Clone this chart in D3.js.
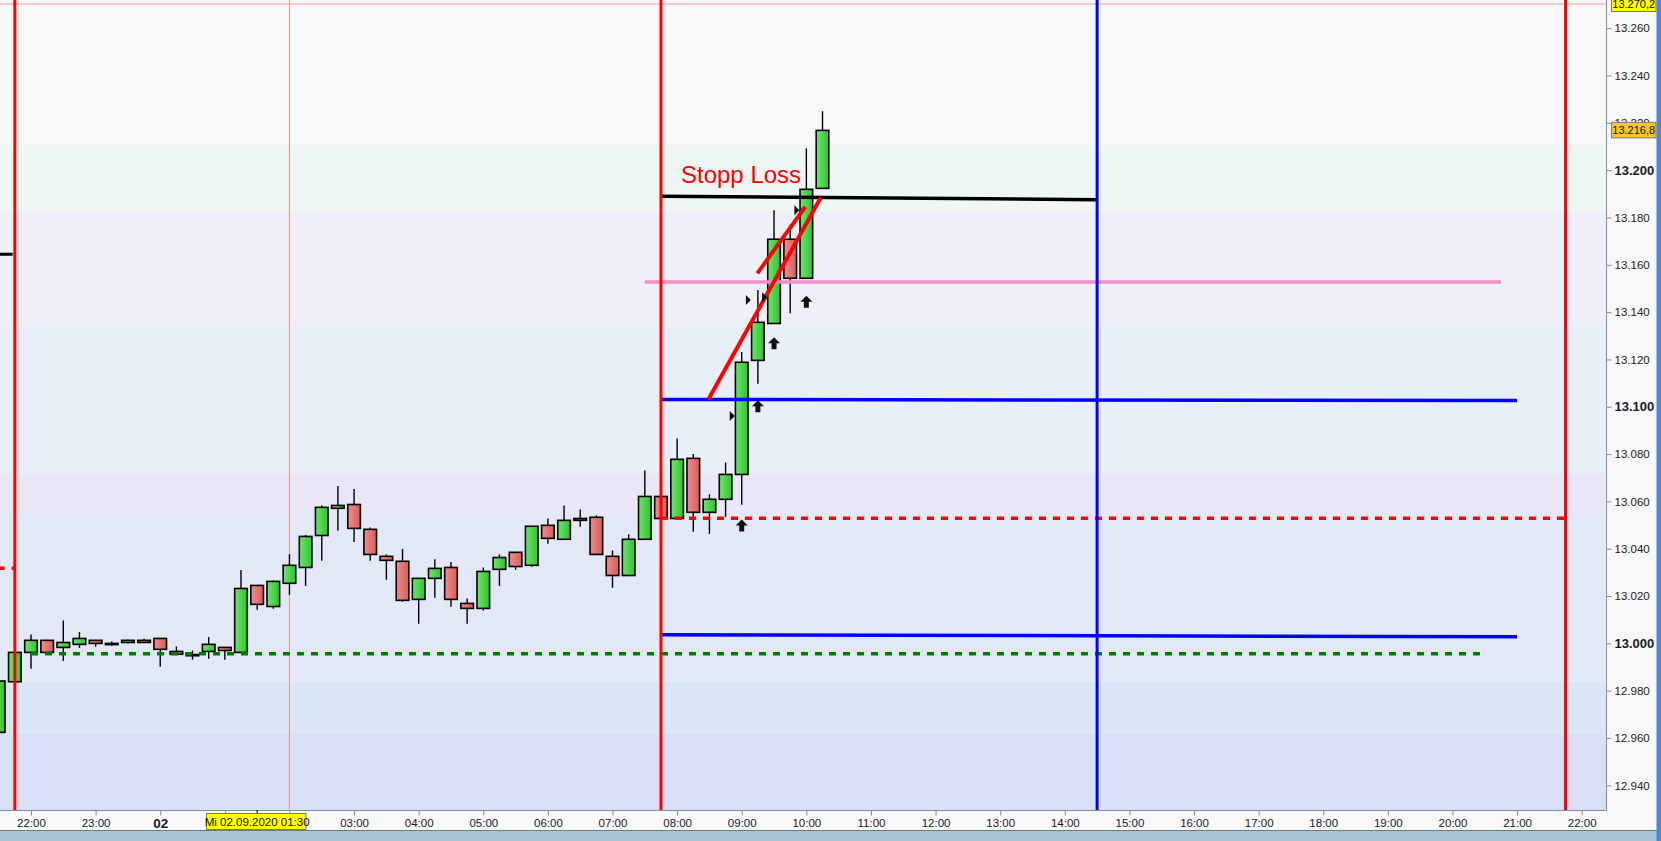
<!DOCTYPE html>
<html><head><meta charset="utf-8">
<script src="https://cdn.jsdelivr.net/npm/d3@7"></script>
<style>
body{margin:0;background:#f8f8f8;overflow:hidden}
svg{display:block;font-family:"Liberation Sans",Arial,sans-serif}
</style>
</head><body>
<svg id="c" width="1661" height="841"></svg>
<script>
// ---------- DATA ----------
const candleTimes = [
 "2020-09-01 21:30","2020-09-01 21:45","2020-09-01 22:00","2020-09-01 22:15","2020-09-01 22:30","2020-09-01 22:45",
 "2020-09-01 23:00","2020-09-01 23:15","2020-09-01 23:30","2020-09-01 23:45","2020-09-02 00:00","2020-09-02 00:15",
 "2020-09-02 00:30","2020-09-02 00:45","2020-09-02 01:00","2020-09-02 01:15","2020-09-02 01:30","2020-09-02 01:45",
 "2020-09-02 02:00","2020-09-02 02:15","2020-09-02 02:30","2020-09-02 02:45","2020-09-02 03:00","2020-09-02 03:15",
 "2020-09-02 03:30","2020-09-02 03:45","2020-09-02 04:00","2020-09-02 04:15","2020-09-02 04:30","2020-09-02 04:45",
 "2020-09-02 05:00","2020-09-02 05:15","2020-09-02 05:30","2020-09-02 05:45","2020-09-02 06:00","2020-09-02 06:15",
 "2020-09-02 06:30","2020-09-02 06:45","2020-09-02 07:00","2020-09-02 07:15","2020-09-02 07:30","2020-09-02 07:45",
 "2020-09-02 08:00","2020-09-02 08:15","2020-09-02 08:30","2020-09-02 08:45","2020-09-02 09:00","2020-09-02 09:15",
 "2020-09-02 09:30","2020-09-02 09:45","2020-09-02 10:00","2020-09-02 10:15"];
const opens  = [12962.4,12983.8,12996.2,13001.3,12998.3,12999.6,13001.3,13000.0,13000.4,13001.3,13002.1,12996.6,
 12995.3,12996.6,12998.3,12996.2,13024.5,13015.6,13025.4,13032.1,13045.6,13057.1,13058.7,13048.2,
 13036.8,13034.7,13018.6,13027.5,13032.1,13016.9,13014.8,13031.3,13038.5,13033.0,13049.9,13044.0,
 13052.0,13053.3,13036.8,13028.7,13044.0,13062.1,13052.8,13078.2,13055.4,13060.9,13071.4,13119.6,
 13135.2,13170.8,13154.3,13192.3];
const highs  = [12984.5,12996.5,13003.8,13001.5,13009.7,13004.8,13001.5,13000.8,13001.7,13002.1,13002.1,12998.7,
 12997.0,13002.7,12998.3,13031.0,13024.5,13026.6,13037.7,13045.8,13058.3,13066.5,13065.2,13049.0,
 13037.6,13039.9,13027.5,13035.6,13034.4,13019.0,13032.1,13037.6,13038.5,13049.5,13052.8,13058.3,
 13056.6,13054.1,13039.3,13046.1,13073.1,13062.1,13086.6,13080.0,13063.0,13076.5,13123.2,13149.3,
 13183.1,13176.7,13209.2,13224.9];
const lows   = [12961.0,12983.5,12989.3,12996.0,12992.6,12998.1,12998.6,12999.0,13000.0,13000.4,12990.1,12995.4,
 12993.1,12993.5,12993.1,12996.2,13014.2,13014.6,13020.5,13024.3,13034.9,13047.6,13042.9,13034.9,
 13026.9,13017.6,13008.3,13019.3,13015.5,13008.3,13013.9,13024.3,13031.1,13032.4,13042.1,13044.0,
 13049.3,13037.6,13023.5,13028.7,13044.0,13052.8,13052.8,13047.2,13046.3,13053.5,13058.6,13109.7,
 13135.2,13139.5,13154.3,13192.3];
const closes = [12984.1,12996.2,13001.3,12996.2,13000.4,13002.1,13000.0,12999.7,13001.3,13000.4,12997.5,12995.4,
 12995.2,12999.6,12997.0,13023.2,13016.5,13026.2,13033.0,13045.2,13057.5,13058.3,13048.6,13037.6,
 13035.1,13018.2,13027.5,13031.7,13018.6,13014.8,13030.4,13036.3,13032.5,13049.5,13044.4,13052.0,
 13052.8,13037.6,13028.7,13044.0,13062.1,13052.8,13077.8,13055.4,13060.9,13071.4,13118.8,13135.7,
 13170.8,13154.3,13191.9,13216.8];

// y-axis tick values and labels
const yTickValues = [12940,12960,12980,13000,13020,13040,13060,13080,13100,13120,13140,13160,13180,13200,13220,13240,13260];
const yTickLabels = ["12.940","12.960","12.980","13.000","13.020","13.040","13.060","13.080","13.100","13.120","13.140","13.160","13.180","13.200","13.220","13.240","13.260"];
const yBoldLabels = ["13.000","13.100","13.200"];

// x-axis ticks (hourly) and labels (01:00 and 02:00 are hidden by the crosshair label)
const xTickTimes = ["2020-09-01 22:00","2020-09-01 23:00","2020-09-02 00:00","2020-09-02 01:00","2020-09-02 02:00","2020-09-02 03:00",
 "2020-09-02 04:00","2020-09-02 05:00","2020-09-02 06:00","2020-09-02 07:00","2020-09-02 08:00","2020-09-02 09:00",
 "2020-09-02 10:00","2020-09-02 11:00","2020-09-02 12:00","2020-09-02 13:00","2020-09-02 14:00","2020-09-02 15:00",
 "2020-09-02 16:00","2020-09-02 17:00","2020-09-02 18:00","2020-09-02 19:00","2020-09-02 20:00","2020-09-02 21:00","2020-09-02 22:00"];
const xTickLabels = ["22:00","23:00","02","","","03:00","04:00","05:00","06:00","07:00","08:00","09:00","10:00",
 "11:00","12:00","13:00","14:00","15:00","16:00","17:00","18:00","19:00","20:00","21:00","22:00"];

// background price zones (value edges, top to bottom) and colours
const zoneEdges  = [13275, 13210.7, 13182.7, 13133.8, 13072.1, 13055.2, 12983.8, 12962.0, 12925];
const zoneColors = ["#f8f8f8","#eff7f5","#efeff8","#e8eff8","#e9e7f6","#e2e8f6","#d9e6f5","#d8e0f6"];

// horizontal drawing lines
const hLineNames  = ["stop","pink","blue1","redDot","blue2","greenDot","leftBlack","leftRed","topPink"];
const hLineStart  = ["2020-09-02 07:45","2020-09-02 07:30","2020-09-02 07:45","2020-09-02 07:45","2020-09-02 07:45","2020-09-01 22:00","2020-09-01 21:00","2020-09-01 21:29","2020-09-01 21:00"];
const hLineEnd    = ["2020-09-02 14:30","2020-09-02 20:45","2020-09-02 21:00","2020-09-02 21:45","2020-09-02 21:00","2020-09-02 20:27","2020-09-01 21:43","2020-09-01 21:45","2020-09-03 00:00"];
const hLineV1     = [13189.0,13152.7,13103.1,13052.9,13003.7,12995.6,13164.5,13031.8,13270.2];
const hLineV2     = [13187.5,13152.7,13102.6,13052.9,13002.8,12995.6,13164.5,13031.8,13270.2];

// red trendlines
const trendStart  = ["2020-09-02 08:29","2020-09-02 09:14:30"];
const trendEnd    = ["2020-09-02 10:13:20","2020-09-02 09:59"];
const trendV1     = [13103.1,13156.4];
const trendV2     = [13188.3,13184.5];

// vertical lines
const vLineTimes  = ["2020-09-01 21:45","2020-09-02 07:45","2020-09-02 21:45","2020-09-02 14:30"];
const vLineKinds  = ["red","red","red","blue"];
const crossTime   = "2020-09-02 02:00";

// trade markers
const arrowTimes  = ["2020-09-02 09:00","2020-09-02 09:15","2020-09-02 09:30","2020-09-02 10:00"];
const arrowValues = [13052.4,13102.8,13129.4,13146.9];
const flagTimes   = ["2020-09-02 09:00","2020-09-02 09:15","2020-09-02 09:30","2020-09-02 10:00"];
const flagValues  = [13096.1,13145.1,13146.3,13183.1];

const annotText = "Stopp Loss", annotTime = "2020-09-02 08:03:36", annotValue = 13194.6;
const lastPrice = 13216.8, lastLabel = "13.216,8";
const topPrice  = 13270.2, topLabel  = "13.270,2";
const crossLabel = "Mi 02.09.2020 01:30", crossLabelTime = "2020-09-02 01:30";

// ---------- DRAW ----------
const parse = s => d3.timeParse(s.length > 16 ? "%Y-%m-%d %H:%M:%S" : "%Y-%m-%d %H:%M")(s);
const W = 1661, H = 841, PR = 1606, PB = 810;
const svg = d3.select("#c");
const x = d3.scaleTime().domain([parse("2020-09-01 22:00"), parse("2020-09-02 22:00")]).range([31, 1581.7]);
const y = d3.scaleLinear().domain([12929.6, 13271.9]).range([PB, 0]);

const defs = svg.append("defs");
defs.append("clipPath").attr("id","plot").append("rect").attr("width",PR).attr("height",PB);
const gg = defs.append("linearGradient").attr("id","gG");
gg.append("stop").attr("offset","0").attr("stop-color","#6ae86a");
gg.append("stop").attr("offset","1").attr("stop-color","#34bf34");
const gr = defs.append("linearGradient").attr("id","gR");
gr.append("stop").attr("offset","0").attr("stop-color","#f48a8a");
gr.append("stop").attr("offset","1").attr("stop-color","#d45e5e");

svg.append("rect").attr("width",W).attr("height",H).attr("fill","#f8f8f8");

const plot = svg.append("g").attr("clip-path","url(#plot)");
plot.selectAll("rect.zone").data(zoneColors).join("rect").attr("class","zone")
  .attr("x",0).attr("width",PR)
  .attr("y",(c,i)=>y(zoneEdges[i]))
  .attr("height",(c,i)=>y(zoneEdges[i+1])-y(zoneEdges[i]))
  .attr("fill",c=>c);

plot.append("line").attr("x1",x(parse(crossTime))).attr("x2",x(parse(crossTime)))
  .attr("y1",0).attr("y2",PB).attr("stroke","#f28c8c").attr("stroke-width",1);

const candles = candleTimes.map((t,i)=>({t:parse(t),o:opens[i],h:highs[i],l:lows[i],c:closes[i]}));
const bw = 12.6;
plot.selectAll("line.wick").data(candles).join("line").attr("class","wick")
  .attr("x1",d=>x(d.t)).attr("x2",d=>x(d.t)).attr("y1",d=>y(d.h)).attr("y2",d=>y(d.l))
  .attr("stroke","#000").attr("stroke-width",1.4);
plot.selectAll("rect.body").data(candles).join("rect").attr("class","body")
  .attr("x",d=>x(d.t)-bw/2).attr("width",bw)
  .attr("y",d=>y(Math.max(d.o,d.c)))
  .attr("height",d=>Math.max(1.2,Math.abs(y(d.o)-y(d.c))))
  .attr("fill",d=>d.c>=d.o?"url(#gG)":"url(#gR)")
  .attr("stroke","#000").attr("stroke-width",1.6);

const hStyle = {
  stop:{c:"#000",w:3.5}, pink:{c:"#f58cc6",w:3.5}, blue1:{c:"#0000ff",w:3.5}, redDot:{c:"#ff0000",w:3.5,d:"7,7"},
  blue2:{c:"#0000ff",w:3.5}, greenDot:{c:"#007a00",w:3.5,d:"7,7"}, leftBlack:{c:"#000",w:3},
  leftRed:{c:"#ff0000",w:3.5,d:"7,7"}, topPink:{c:"#f0a0a0",w:1}
};
hLineNames.forEach((n,i)=>{
  const s = hStyle[n];
  plot.append("line")
    .attr("x1",x(parse(hLineStart[i]))).attr("y1",y(hLineV1[i]))
    .attr("x2",x(parse(hLineEnd[i]))).attr("y2",y(hLineV2[i]))
    .attr("stroke",s.c).attr("stroke-width",s.w).attr("stroke-dasharray",s.d||null);
});

trendStart.forEach((t,i)=>{
  plot.append("line")
    .attr("x1",x(parse(t))).attr("y1",y(trendV1[i]))
    .attr("x2",x(parse(trendEnd[i]))).attr("y2",y(trendV2[i]))
    .attr("stroke","#ff0000").attr("stroke-width",4);
});

vLineTimes.forEach((t,i)=>{
  plot.append("line").attr("x1",x(parse(t))).attr("x2",x(parse(t))).attr("y1",0).attr("y2",PB)
    .attr("stroke",vLineKinds[i]==="red"?"#ff0000":"#0000ff").attr("stroke-width",3);
});

arrowTimes.forEach((t,i)=>{
  const cx = x(parse(t)), y0 = y(arrowValues[i]);
  plot.append("path").attr("d",`M${cx},${y0} L${cx+6},${y0+6} L${cx+2.5},${y0+6} L${cx+2.5},${y0+12} L${cx-2.5},${y0+12} L${cx-2.5},${y0+6} L${cx-6},${y0+6} Z`)
    .attr("fill","#111");
});
flagTimes.forEach((t,i)=>{
  const cx = x(parse(t)) - 10, cy = y(flagValues[i]);
  plot.append("path").attr("d",`M${cx-2},${cy-5} L${cx+3},${cy} L${cx-2},${cy+5} Z`).attr("fill","#111");
});

plot.append("text").attr("x",x(parse(annotTime))).attr("y",y(annotValue))
  .attr("fill","#ff0000").attr("font-size",24).text(annotText);

svg.append("line").attr("x1",PR+0.5).attr("x2",PR+0.5).attr("y1",0).attr("y2",PB+0.5).attr("stroke","#7d8f9b");
svg.append("line").attr("x1",0).attr("x2",PR+0.5).attr("y1",PB+0.5).attr("y2",PB+0.5).attr("stroke","#7d8f9b");

const yAxis = d3.axisRight(y).tickValues(yTickValues).tickSize(5).tickPadding(3)
  .tickFormat((d,i)=>yTickLabels[i]);
const ya = svg.append("g").attr("transform",`translate(${PR+0.5},0)`).call(yAxis);
ya.select(".domain").remove();
ya.selectAll(".tick line").attr("stroke","#7d8f9b");
ya.selectAll(".tick text").attr("fill","#1a1a2a")
  .attr("font-family","'Liberation Sans',Arial,sans-serif")
  .attr("font-weight",(d,i)=>yBoldLabels.includes(yTickLabels[i])?"bold":"normal")
  .attr("font-size",(d,i)=>yBoldLabels.includes(yTickLabels[i])?13:11.5);

const xAxis = d3.axisBottom(x).tickValues(xTickTimes.map(parse)).tickSize(5).tickPadding(3)
  .tickFormat((d,i)=>xTickLabels[i]);
const xa = svg.append("g").attr("transform",`translate(0,${PB+0.5})`).call(xAxis);
xa.select(".domain").remove();
xa.selectAll(".tick line").attr("stroke","#7d8f9b");
xa.selectAll(".tick text").attr("fill","#1a1a2a")
  .attr("font-family","'Liberation Sans',Arial,sans-serif")
  .attr("font-weight",(d,i)=>xTickLabels[i]==="02"?"bold":"normal")
  .attr("font-size",(d,i)=>xTickLabels[i]==="02"?13.5:11.5);

const cxl = x(parse(crossLabelTime));
svg.append("line").attr("x1",cxl).attr("x2",cxl).attr("y1",PB).attr("y2",PB+5).attr("stroke","#000");
svg.append("rect").attr("x",206.5).attr("y",813.5).attr("width",99.5).attr("height",16)
  .attr("fill","#ffff00").attr("stroke","#7a7a7a");
svg.append("text").attr("x",cxl).attr("y",826).attr("text-anchor","middle").attr("font-size",11.5)
  .attr("fill","#111").text(crossLabel);

function priceBox(v, label, fill){
  const yy = y(v);
  svg.append("rect").attr("x",1611.5).attr("y",yy-8).attr("width",44.5).attr("height",15.5)
    .attr("fill",fill).attr("stroke","#7a7a7a");
  svg.append("text").attr("x",1633.75).attr("y",yy+4).attr("text-anchor","middle")
    .attr("font-size",11).attr("fill","#111").text(label);
}
priceBox(lastPrice, lastLabel, "#f7c81e");
priceBox(topPrice, topLabel, "#ffff00");

svg.append("rect").attr("x",0).attr("y",830).attr("width",W).attr("height",11).attr("fill","#a8c4d4");
svg.append("line").attr("x1",0).attr("x2",W).attr("y1",830.5).attr("y2",830.5).attr("stroke","#6d7b87");
svg.append("rect").attr("x",1656.5).attr("y",0).attr("width",4.5).attr("height",H).attr("fill","#4f86d8");
</script>
</body></html>
